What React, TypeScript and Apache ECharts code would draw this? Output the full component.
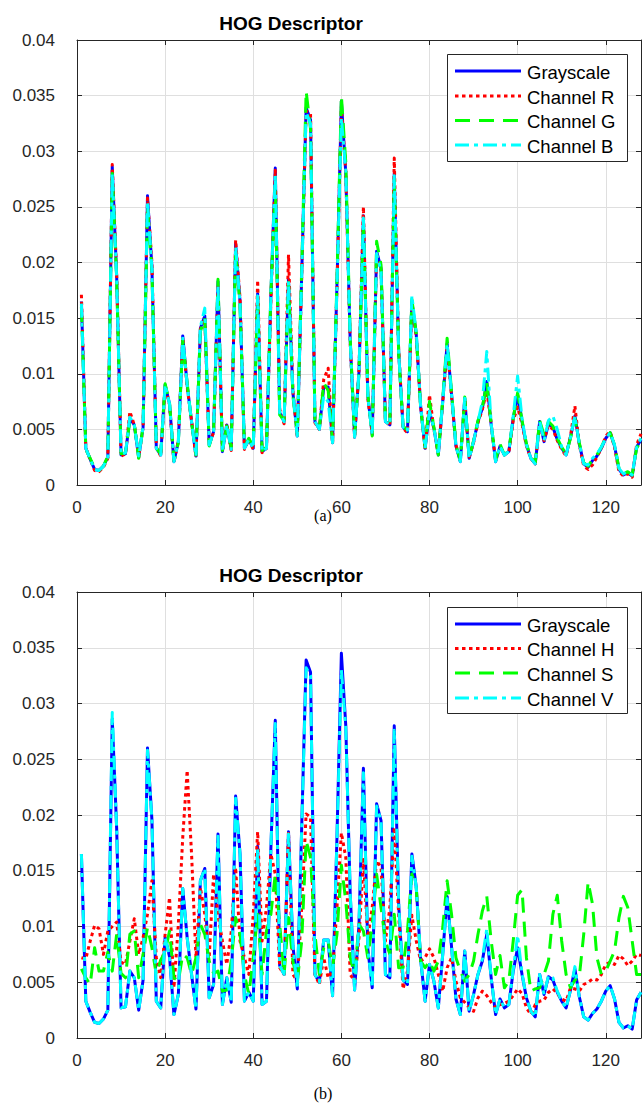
import React, { useEffect, useRef } from "react";
import * as echarts from "echarts";

const titleText = "HOG Descriptor";
const xTicks = [0, 20, 40, 60, 80, 100, 120];
const legendA = ["Grayscale", "Channel R", "Channel G", "Channel B"];
const legendB = ["Grayscale", "Channel H", "Channel S", "Channel V"];

const grayscale = [
  0.0165, 0.0033, 0.0023, 0.0014, 0.0013, 0.0017, 0.0025, 0.0286,
  0.0188, 0.0027, 0.0028, 0.0060, 0.0054, 0.0025, 0.0052, 0.0260,
  0.0196, 0.0033, 0.0027, 0.0090, 0.0073, 0.0021, 0.0039, 0.0134,
  0.0090, 0.0057, 0.0026, 0.0141, 0.0152, 0.0036, 0.0048, 0.0183,
  0.0030, 0.0054, 0.0032, 0.0217, 0.0165, 0.0033, 0.0041, 0.0033,
  0.0172, 0.0030, 0.0033, 0.0170, 0.0285, 0.0065, 0.0057, 0.0185,
  0.0083, 0.0044, 0.0190, 0.0339, 0.0328, 0.0057, 0.0050, 0.0088,
  0.0088, 0.0038, 0.0180, 0.0345, 0.0280, 0.0130, 0.0043, 0.0102,
  0.0242, 0.0080, 0.0045, 0.0210, 0.0195, 0.0057, 0.0054, 0.0280,
  0.0120, 0.0052, 0.0048, 0.0165, 0.0135, 0.0070, 0.0033, 0.0066,
  0.0051, 0.0027, 0.0075, 0.0127, 0.0082, 0.0035, 0.0021, 0.0078,
  0.0024, 0.0039, 0.0057, 0.0069, 0.0093, 0.0054, 0.0021, 0.0035,
  0.0027, 0.0030, 0.0060, 0.0081, 0.0057, 0.0036, 0.0024, 0.0019,
  0.0057, 0.0039, 0.0055, 0.0052, 0.0041, 0.0033, 0.0027, 0.0043,
  0.0062, 0.0037, 0.0019, 0.0016, 0.0022, 0.0026, 0.0033, 0.0042,
  0.0047, 0.0035, 0.0014, 0.0009, 0.0011, 0.0008, 0.0034, 0.0041,
];

const channelR = [
  0.0171, 0.0033, 0.0023, 0.0013, 0.0012, 0.0016, 0.0024, 0.0288,
  0.0190, 0.0026, 0.0028, 0.0066, 0.0054, 0.0025, 0.0052, 0.0258,
  0.0200, 0.0034, 0.0026, 0.0089, 0.0072, 0.0020, 0.0040, 0.0133,
  0.0088, 0.0058, 0.0025, 0.0140, 0.0150, 0.0037, 0.0047, 0.0180,
  0.0030, 0.0055, 0.0031, 0.0220, 0.0168, 0.0032, 0.0041, 0.0032,
  0.0184, 0.0029, 0.0033, 0.0165, 0.0283, 0.0068, 0.0055, 0.0207,
  0.0085, 0.0043, 0.0188, 0.0336, 0.0334, 0.0056, 0.0050, 0.0095,
  0.0105, 0.0037, 0.0178, 0.0340, 0.0282, 0.0128, 0.0042, 0.0104,
  0.0250, 0.0078, 0.0046, 0.0208, 0.0193, 0.0058, 0.0053, 0.0294,
  0.0122, 0.0051, 0.0047, 0.0163, 0.0133, 0.0071, 0.0032, 0.0081,
  0.0050, 0.0028, 0.0074, 0.0125, 0.0080, 0.0036, 0.0022, 0.0076,
  0.0025, 0.0038, 0.0056, 0.0068, 0.0085, 0.0055, 0.0022, 0.0034,
  0.0028, 0.0029, 0.0058, 0.0070, 0.0055, 0.0035, 0.0024, 0.0019,
  0.0055, 0.0040, 0.0054, 0.0050, 0.0040, 0.0032, 0.0026, 0.0044,
  0.0071, 0.0036, 0.0017, 0.0014, 0.0018, 0.0025, 0.0033, 0.0044,
  0.0048, 0.0034, 0.0012, 0.0008, 0.0010, 0.0007, 0.0036, 0.0046,
];

const channelG = [
  0.0160, 0.0032, 0.0024, 0.0015, 0.0013, 0.0017, 0.0026, 0.0280,
  0.0185, 0.0028, 0.0029, 0.0058, 0.0055, 0.0024, 0.0053, 0.0250,
  0.0192, 0.0033, 0.0028, 0.0091, 0.0074, 0.0022, 0.0038, 0.0130,
  0.0092, 0.0056, 0.0027, 0.0138, 0.0150, 0.0035, 0.0049, 0.0185,
  0.0031, 0.0053, 0.0033, 0.0212, 0.0160, 0.0034, 0.0042, 0.0034,
  0.0168, 0.0031, 0.0034, 0.0172, 0.0270, 0.0063, 0.0058, 0.0182,
  0.0080, 0.0045, 0.0195, 0.0354, 0.0320, 0.0058, 0.0051, 0.0092,
  0.0085, 0.0039, 0.0185, 0.0350, 0.0290, 0.0132, 0.0044, 0.0100,
  0.0238, 0.0082, 0.0044, 0.0219, 0.0198, 0.0056, 0.0055, 0.0275,
  0.0118, 0.0053, 0.0049, 0.0167, 0.0136, 0.0069, 0.0034, 0.0075,
  0.0052, 0.0027, 0.0077, 0.0132, 0.0084, 0.0036, 0.0022, 0.0079,
  0.0024, 0.0040, 0.0058, 0.0070, 0.0092, 0.0055, 0.0022, 0.0037,
  0.0027, 0.0031, 0.0060, 0.0083, 0.0058, 0.0037, 0.0025, 0.0020,
  0.0058, 0.0045, 0.0057, 0.0053, 0.0042, 0.0034, 0.0028, 0.0042,
  0.0060, 0.0038, 0.0020, 0.0017, 0.0023, 0.0027, 0.0034, 0.0043,
  0.0047, 0.0036, 0.0015, 0.0010, 0.0012, 0.0009, 0.0033, 0.0040,
];

const channelB = [
  0.0163, 0.0033, 0.0023, 0.0014, 0.0013, 0.0017, 0.0025, 0.0280,
  0.0186, 0.0027, 0.0029, 0.0061, 0.0054, 0.0026, 0.0052, 0.0255,
  0.0194, 0.0033, 0.0027, 0.0090, 0.0073, 0.0021, 0.0039, 0.0132,
  0.0090, 0.0057, 0.0026, 0.0142, 0.0159, 0.0036, 0.0048, 0.0180,
  0.0030, 0.0054, 0.0032, 0.0214, 0.0163, 0.0033, 0.0041, 0.0033,
  0.0170, 0.0030, 0.0033, 0.0170, 0.0280, 0.0065, 0.0057, 0.0183,
  0.0083, 0.0044, 0.0188, 0.0335, 0.0325, 0.0057, 0.0050, 0.0080,
  0.0075, 0.0038, 0.0178, 0.0330, 0.0282, 0.0130, 0.0043, 0.0102,
  0.0240, 0.0080, 0.0045, 0.0208, 0.0192, 0.0057, 0.0054, 0.0278,
  0.0120, 0.0052, 0.0048, 0.0170, 0.0137, 0.0070, 0.0033, 0.0066,
  0.0051, 0.0027, 0.0075, 0.0127, 0.0082, 0.0035, 0.0021, 0.0078,
  0.0024, 0.0039, 0.0057, 0.0075, 0.0120, 0.0055, 0.0021, 0.0035,
  0.0027, 0.0030, 0.0062, 0.0098, 0.0060, 0.0036, 0.0024, 0.0019,
  0.0057, 0.0040, 0.0058, 0.0062, 0.0050, 0.0034, 0.0027, 0.0043,
  0.0062, 0.0037, 0.0019, 0.0018, 0.0024, 0.0028, 0.0034, 0.0042,
  0.0047, 0.0036, 0.0015, 0.0010, 0.0012, 0.0009, 0.0034, 0.0042,
];

const channelH = [
  0.0072, 0.0071, 0.0087, 0.0101, 0.0098, 0.0075, 0.0096, 0.0100,
  0.0104, 0.0068, 0.0066, 0.0087, 0.0107, 0.0075, 0.0090, 0.0111,
  0.0141, 0.0072, 0.0054, 0.0093, 0.0126, 0.0045, 0.0102, 0.0180,
  0.0240, 0.0165, 0.0072, 0.0135, 0.0111, 0.0072, 0.0147, 0.0110,
  0.0087, 0.0066, 0.0095, 0.0153, 0.0087, 0.0072, 0.0057, 0.0111,
  0.0185, 0.0087, 0.0117, 0.0165, 0.0147, 0.0063, 0.0057, 0.0185,
  0.0057, 0.0051, 0.0117, 0.0201, 0.0198, 0.0057, 0.0048, 0.0072,
  0.0054, 0.0060, 0.0117, 0.0184, 0.0162, 0.0057, 0.0051, 0.0090,
  0.0160, 0.0090, 0.0117, 0.0159, 0.0153, 0.0087, 0.0117, 0.0189,
  0.0111, 0.0044, 0.0060, 0.0110, 0.0087, 0.0069, 0.0072, 0.0080,
  0.0072, 0.0057, 0.0042, 0.0063, 0.0072, 0.0051, 0.0036, 0.0032,
  0.0027, 0.0024, 0.0036, 0.0042, 0.0038, 0.0032, 0.0027, 0.0030,
  0.0031, 0.0033, 0.0038, 0.0044, 0.0040, 0.0027, 0.0021, 0.0030,
  0.0033, 0.0034, 0.0041, 0.0044, 0.0040, 0.0035, 0.0033, 0.0045,
  0.0044, 0.0042, 0.0048, 0.0050, 0.0053, 0.0052, 0.0057, 0.0066,
  0.0068, 0.0066, 0.0074, 0.0071, 0.0065, 0.0069, 0.0075, 0.0074,
];

const channelS = [
  0.0062, 0.0054, 0.0048, 0.0081, 0.0060, 0.0060, 0.0077, 0.0060,
  0.0093, 0.0058, 0.0054, 0.0093, 0.0096, 0.0054, 0.0075, 0.0099,
  0.0081, 0.0057, 0.0070, 0.0077, 0.0096, 0.0054, 0.0051, 0.0075,
  0.0072, 0.0057, 0.0072, 0.0102, 0.0093, 0.0069, 0.0058, 0.0060,
  0.0042, 0.0043, 0.0069, 0.0108, 0.0093, 0.0057, 0.0039, 0.0072,
  0.0111, 0.0057, 0.0096, 0.0111, 0.0147, 0.0102, 0.0057, 0.0108,
  0.0069, 0.0051, 0.0087, 0.0177, 0.0162, 0.0093, 0.0057, 0.0081,
  0.0087, 0.0063, 0.0093, 0.0155, 0.0123, 0.0072, 0.0057, 0.0102,
  0.0096, 0.0072, 0.0102, 0.0147, 0.0117, 0.0087, 0.0075, 0.0111,
  0.0063, 0.0063, 0.0096, 0.0147, 0.0135, 0.0069, 0.0063, 0.0069,
  0.0060, 0.0069, 0.0099, 0.0141, 0.0111, 0.0072, 0.0060, 0.0051,
  0.0057, 0.0069, 0.0093, 0.0114, 0.0127, 0.0087, 0.0057, 0.0074,
  0.0045, 0.0051, 0.0087, 0.0128, 0.0133, 0.0072, 0.0042, 0.0044,
  0.0045, 0.0057, 0.0069, 0.0111, 0.0128, 0.0087, 0.0057, 0.0045,
  0.0052, 0.0055, 0.0093, 0.0140, 0.0120, 0.0072, 0.0057, 0.0060,
  0.0069, 0.0078, 0.0108, 0.0127, 0.0117, 0.0087, 0.0057, 0.0057,
];

const channelV = [
  0.0165, 0.0033, 0.0023, 0.0014, 0.0013, 0.0017, 0.0025, 0.0292,
  0.0188, 0.0027, 0.0028, 0.0060, 0.0054, 0.0025, 0.0052, 0.0258,
  0.0196, 0.0033, 0.0027, 0.0090, 0.0073, 0.0021, 0.0039, 0.0134,
  0.0090, 0.0057, 0.0026, 0.0141, 0.0152, 0.0036, 0.0048, 0.0181,
  0.0030, 0.0054, 0.0032, 0.0215, 0.0165, 0.0033, 0.0041, 0.0033,
  0.0170, 0.0030, 0.0033, 0.0170, 0.0282, 0.0065, 0.0057, 0.0183,
  0.0083, 0.0044, 0.0188, 0.0332, 0.0325, 0.0057, 0.0050, 0.0088,
  0.0088, 0.0038, 0.0178, 0.0330, 0.0278, 0.0130, 0.0043, 0.0102,
  0.0238, 0.0080, 0.0045, 0.0208, 0.0195, 0.0057, 0.0054, 0.0276,
  0.0120, 0.0052, 0.0048, 0.0163, 0.0135, 0.0070, 0.0033, 0.0066,
  0.0051, 0.0027, 0.0075, 0.0125, 0.0082, 0.0035, 0.0021, 0.0078,
  0.0024, 0.0039, 0.0057, 0.0071, 0.0098, 0.0054, 0.0021, 0.0035,
  0.0027, 0.0030, 0.0061, 0.0092, 0.0058, 0.0036, 0.0024, 0.0019,
  0.0057, 0.0039, 0.0056, 0.0054, 0.0042, 0.0033, 0.0027, 0.0043,
  0.0064, 0.0037, 0.0019, 0.0016, 0.0022, 0.0026, 0.0033, 0.0042,
  0.0047, 0.0035, 0.0014, 0.0009, 0.0011, 0.0008, 0.0034, 0.0041,
];

const FONT = '"Liberation Sans", Arial, Helvetica, sans-serif';
const AX = "#262626";
const GRIDC = "#dfdfdf";
const LW = 3;

const styles = [
  { color: "#0000ff", dash: null as number[] | null },
  { color: "#ff0000", dash: [3.5, 3.5] },
  { color: "#00ff00", dash: [15, 9] },
  { color: "#00ffff", dash: [14, 5, 4, 5] },
];

const grids = [
  { left: 77, top: 40, width: 566, height: 445 },
  { left: 77, top: 592, width: 566, height: 446 },
];

function toPairs(arr: number[]) {
  return arr.map((v, i) => [i + 1, v]);
}

function makeXAxis(gridIndex: number, position: string, labels: boolean) {
  return {
    type: "value",
    gridIndex,
    position,
    min: 0,
    max: 128,
    interval: 20,
    axisLine: { show: true, onZero: false, lineStyle: { color: AX, width: 1 } },
    axisTick: { show: true, inside: true, length: 5, lineStyle: { color: AX, width: 1 } },
    axisLabel: {
      show: labels,
      margin: 14,
      color: AX,
      fontSize: 17,
      fontFamily: FONT,
      formatter: (v: number) => (xTicks.indexOf(v) >= 0 ? String(v) : ""),
    },
    splitLine: { show: labels, lineStyle: { color: GRIDC, width: 1 } },
  };
}

function makeYAxis(gridIndex: number, position: string, labels: boolean) {
  return {
    type: "value",
    gridIndex,
    position,
    min: 0,
    max: 0.04,
    interval: 0.005,
    axisLine: { show: true, onZero: false, lineStyle: { color: AX, width: 1 } },
    axisTick: { show: true, inside: true, length: 5, lineStyle: { color: AX, width: 1 } },
    axisLabel: {
      show: labels,
      margin: 22,
      color: AX,
      fontSize: 17,
      fontFamily: FONT,
      formatter: (v: number) => (v === 0 ? "0" : String(+v.toFixed(3))),
    },
    splitLine: { show: labels, lineStyle: { color: GRIDC, width: 1 } },
  };
}

function makeSeries(gridNo: number, arrs: number[][], names: string[]) {
  return arrs.map((arr, k) => ({
    type: "line",
    name: names[k] + (gridNo === 0 ? " (a)" : " (b)"),
    xAxisIndex: gridNo * 2,
    yAxisIndex: gridNo * 2,
    data: toPairs(arr),
    showSymbol: false,
    symbol: "none",
    silent: true,
    z: 2 + k,
    lineStyle: {
      color: styles[k].color,
      width: LW,
      type: styles[k].dash ? styles[k].dash : "solid",
      cap: "butt",
      join: "round",
    },
    emphasis: { disabled: true },
  }));
}

function text(x: number, y: number, t: string, font: string, align = "left") {
  return {
    type: "text",
    z: 110,
    style: {
      text: t,
      x,
      y,
      font,
      fill: "#000",
      textAlign: align,
      align,
      textVerticalAlign: "middle",
      verticalAlign: "middle",
    },
  };
}

function legendGraphics(boxTop: number, boxH: number, rows: number[], names: string[]) {
  const els: any[] = [
    {
      type: "rect",
      z: 100,
      shape: { x: 447.5, y: boxTop + 0.5, width: 180, height: boxH },
      style: { fill: "#ffffff", stroke: AX, lineWidth: 1 },
    },
  ];
  rows.forEach((y, k) => {
    els.push({
      type: "line",
      z: 105,
      shape: { x1: 455, y1: y, x2: 521, y2: y },
      style: {
        stroke: styles[k].color,
        lineWidth: LW,
        lineDash: styles[k].dash ? styles[k].dash : null,
        lineCap: "butt",
      },
    });
    els.push(text(527, y + 1, names[k], `18.5px ${FONT}`));
  });
  return els;
}

export default function App() {
  const ref = useRef<HTMLDivElement>(null);
  useEffect(() => {
    if (!ref.current) return;
    const chart = echarts.init(ref.current, null, { renderer: "svg" });
    const option: any = {
      animation: false,
      backgroundColor: "#ffffff",
      grid: grids.map((g) => ({ ...g, containLabel: false, show: false })),
      xAxis: [
        makeXAxis(0, "bottom", true),
        makeXAxis(0, "top", false),
        makeXAxis(1, "bottom", true),
        makeXAxis(1, "top", false),
      ],
      yAxis: [
        makeYAxis(0, "left", true),
        makeYAxis(0, "right", false),
        makeYAxis(1, "left", true),
        makeYAxis(1, "right", false),
      ],
      series: [
        ...makeSeries(0, [grayscale, channelR, channelG, channelB], legendA),
        ...makeSeries(1, [grayscale, channelH, channelS, channelV], legendB),
      ],
      graphic: [
        text(291, 23, titleText, `bold 19px ${FONT}`, "center"),
        text(291, 575, titleText, `bold 19px ${FONT}`, "center"),
        text(323, 515, "(a)", `16px "Liberation Serif", "Times New Roman", serif`, "center"),
        text(323, 1093, "(b)", `16px "Liberation Serif", "Times New Roman", serif`, "center"),
        ...legendGraphics(54, 107, [71, 96, 120.5, 145], legendA),
        ...legendGraphics(607, 106, [624, 648.5, 673, 698], legendB),
      ],
    };
    chart.setOption(option);
    return () => chart.dispose();
  }, []);
  return (
    <div
      ref={ref}
      style={{ position: "absolute", left: 0, top: 0, width: 644, height: 1103, background: "#fff" }}
    />
  );
}
